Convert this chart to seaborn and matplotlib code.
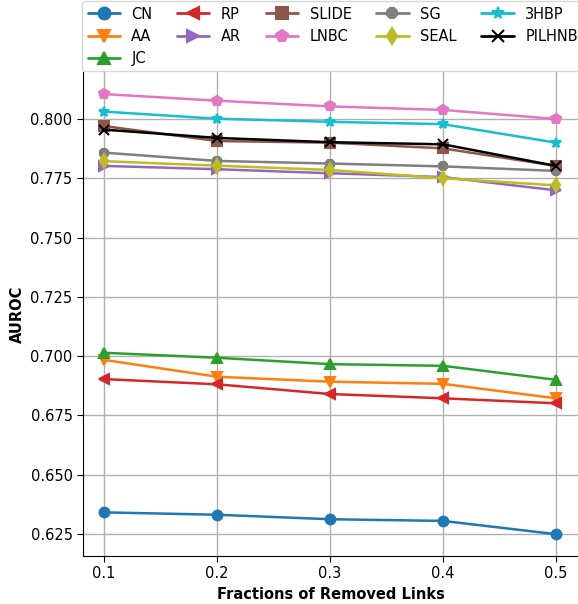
import numpy as np
import pandas as pd
import matplotlib
matplotlib.use("Agg")
import matplotlib.pyplot as plt
import seaborn as sns
from matplotlib.lines import Line2D

fractions = [0.1, 0.2, 0.3, 0.4, 0.5]
methods = ["CN", "AA", "JC", "RP", "AR", "SLIDE", "LNBC", "SG", "SEAL", "3HBP", "PILHNB"]

cn     = [0.6341, 0.6331, 0.6312, 0.6305, 0.6249]
aa     = [0.6984, 0.6913, 0.6892, 0.6883, 0.6822]
jc     = [0.7014, 0.6993, 0.6966, 0.6959, 0.6900]
rp     = [0.6903, 0.6881, 0.6840, 0.6822, 0.6801]
ar     = [0.7802, 0.7788, 0.7771, 0.7755, 0.7699]
slide  = [0.7970, 0.7907, 0.7900, 0.7876, 0.7802]
lnbc   = [0.8105, 0.8077, 0.8053, 0.8038, 0.8000]
sg     = [0.7858, 0.7823, 0.7812, 0.7800, 0.7781]
seal   = [0.7822, 0.7803, 0.7785, 0.7750, 0.7720]
hbp3   = [0.8031, 0.8001, 0.7988, 0.7978, 0.7900]
pilhnb = [0.7955, 0.7920, 0.7902, 0.7893, 0.7802]

values = [cn, aa, jc, rp, ar, slide, lnbc, sg, seal, hbp3, pilhnb]

rows = []
for m, vals in zip(methods, values):
    for f, v in zip(fractions, vals):
        rows.append({"Method": m, "Fraction": f, "AUROC": v})
df = pd.DataFrame(rows)

sns.set_style("ticks")
plt.rcParams["font.family"] = ["DejaVu Sans"]
plt.rcParams["text.color"] = "black"
plt.rcParams["axes.labelcolor"] = "black"
plt.rcParams["xtick.color"] = "black"
plt.rcParams["ytick.color"] = "black"

tab = sns.color_palette("tab10")
colors = list(tab[:10]) + ["black"]
palette = dict(zip(methods, colors))
marker_list = ["o", "v", "^", "<", ">", "s", "p", "8", "d", "*", "x"]
markers = dict(zip(methods, marker_list))

fig = plt.figure(figsize=(5.78, 6.04), dpi=100)
ax = fig.add_axes([83/578, 48/604, 1 - 83/578, (556 - 72)/604])

for m in methods:
    sub = df[df["Method"] == m]
    sns.lineplot(data=sub, x="Fraction", y="AUROC", color=palette[m],
                 marker=markers[m], markersize=7, linewidth=1.8,
                 markeredgewidth=1.5, markeredgecolor=palette[m], ax=ax,
                 legend=False)

ax.set_xlim(0.0814, 0.5195)
ax.set_ylim(0.6157, 0.8198)
ax.set_xticks(fractions)
ax.set_xticklabels([f"{f:.1f}" for f in fractions], fontsize=10.5)
yt = np.arange(0.625, 0.8001, 0.025)
ax.set_yticks(yt)
ax.set_yticklabels([f"{v:.3f}" for v in yt], fontsize=10.5)
ax.grid(True, color="#b0b0b0", linewidth=1)
ax.set_axisbelow(True)
for s in ["top", "right"]:
    ax.spines[s].set_visible(False)
for s in ["left", "bottom"]:
    ax.spines[s].set_color("black")
ax.tick_params(axis="both", colors="black", length=4)
ax.set_xlabel("Fractions of Removed Links", fontsize=10.5, fontweight="bold")
ax.set_ylabel("AUROC", fontsize=10.5, fontweight="bold")

handles = [Line2D([], [], color=palette[m], marker=mk, markersize=8.5, linewidth=2,
                  markeredgewidth=1.5) for m, mk in zip(methods, marker_list)]
fig.legend(handles, methods, loc="upper left", bbox_to_anchor=(81/578, 1.0),
           ncol=5, fontsize=10.5, frameon=True, handlelength=2.2,
           columnspacing=1.7, labelspacing=0.5, borderaxespad=0.1,
           handletextpad=0.8, borderpad=0.35)

fig.savefig("out.png", dpi=100)
